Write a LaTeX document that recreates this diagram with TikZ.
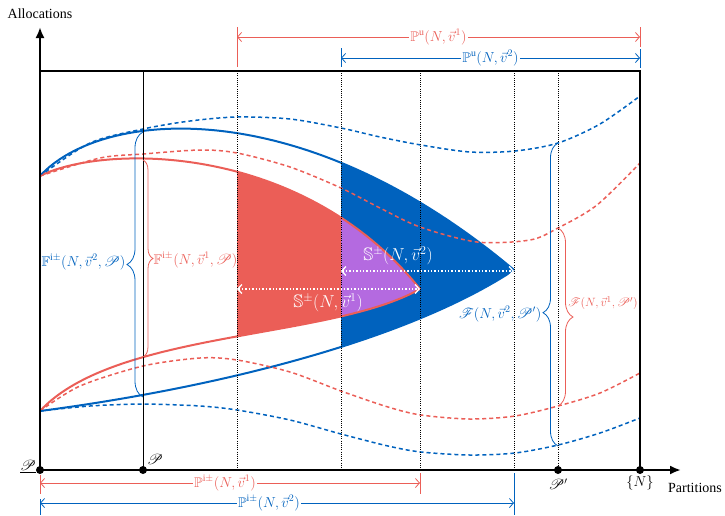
\documentclass[tikz,border=0pt]{standalone}
\usepackage{fontspec}
\setmainfont{Liberation Serif}
\usepackage{amssymb}
\usepackage{mathrsfs}
\usetikzlibrary{decorations.pathreplacing,arrows.meta}
\definecolor{redc}{RGB}{235,94,87}
\definecolor{bluec}{RGB}{0,98,190}
\definecolor{purc}{RGB}{180,106,224}
\begin{document}
\begin{tikzpicture}[x=1pt,y=-1pt,font=\fontsize{14}{16}\selectfont,
  solidc/.style={line width=2pt},
  dashc/.style={line width=1.5pt,dash pattern=on 4pt off 3pt},
  vdot/.style={line width=0.7pt,dash pattern=on 1pt off 1.2pt},
  brc/.style={decorate,decoration={brace,amplitude=#1},line width=0.8pt},
  dimarrow/.style={line width=0.8pt,{Straight Barb[length=4pt,width=9pt]}-{Straight Barb[length=4pt,width=9pt]}},
  barline/.style={line width=0.9pt},
  wdot/.style={white,line width=1.3pt,dash pattern=on 1.4pt off 2pt,{Straight Barb[length=4pt,width=9pt]}-{Straight Barb[length=4pt,width=9pt]}},
  dimlabel/.style={fill=white,inner sep=1.5pt},
  bigl/.style={text=white,font=\fontsize{18}{20}\selectfont,inner sep=1pt},
  axis/.style={line width=2.2pt},
  dotp/.style={circle,fill=black,inner sep=0pt,minimum size=8pt}
]
\useasboundingbox (0,0) rectangle (725,515);

% ---- fills
\begin{scope}
  \clip (237,60) rectangle (341,480);
  \fill[redc] (40,176) .. controls (100,145) and (300,140) .. (420,289)
     .. controls (330,340) and (115,330) .. (40,411) -- cycle;
\end{scope}
\begin{scope}
  \clip (341,60) rectangle (600,480);
  \fill[bluec] (40,176) .. controls (100,110) and (300,90) .. (514,270)
     .. controls (400,345) and (200,390) .. (40,411) -- cycle;
  \fill[purc] (40,176) .. controls (100,145) and (300,140) .. (420,289)
     .. controls (330,340) and (115,330) .. (40,411) -- cycle;
\end{scope}

% ---- solid curves
\draw[bluec,solidc] (40,176) .. controls (100,110) and (300,90) .. (514,270);
\draw[bluec,solidc] (40,411) .. controls (200,390) and (400,345) .. (514,270);
\draw[redc,solidc] (40,176) .. controls (100,145) and (300,140) .. (420,289);
\draw[redc,solidc] (40,411) .. controls (115,330) and (330,340) .. (420,289);

% ---- dashed curves
\draw[bluec,dashc] plot[smooth] coordinates {(40,176) (90,143) (143,129) (190,121) (237,117) (290,119) (341,128) (380,137) (421,145) (470,152) (515,151) (558,143) (600,124) (640,96)};
\draw[redc,dashc] plot[smooth] coordinates {(40,176) (100,158) (143,154) (200,150) (237,153) (290,167) (341,188) (380,208) (420,227) (477,242) (530,240) (558,228) (597,205) (640,163)};
\draw[redc,dashc] plot[smooth] coordinates {(40,411) (80,386) (143,366) (200,358) (237,360) (290,372) (341,391) (388,407) (421,415) (470,419) (515,416) (558,406) (600,393) (640,373)};
\draw[bluec,dashc] plot[smooth] coordinates {(40,411) (90,406) (143,404) (200,406) (237,410) (290,420) (341,434) (388,446) (421,452) (470,455) (515,453) (558,445) (600,433) (640,418)};

% ---- vertical guides
\draw[line width=0.8pt] (143,71) -- (143,470);
\foreach \xx in {237,341,420,514,558} \draw[vdot] (\xx,71) -- (\xx,470);

% ---- white dotted arrows
\coordinate (s2a) at (341,271); \coordinate (s2b) at (514,271);
\coordinate (s1a) at (237,289); \coordinate (s1b) at (420,289);
\draw[wdot] (s2a) -- (s2b);
\draw[wdot] (s1a) -- (s1b);
\node[bigl] (S2) at (398,256) {$\mathbb{S}^{\pm}(N,\vec{v}^2)$};
\node[bigl] (S1) at (328,303) {$\mathbb{S}^{\pm}(N,\vec{v}^1)$};

% ---- braces
\coordinate (lb1) at (143,397); \coordinate (lb2) at (143,132);
\coordinate (lr1) at (143,160); \coordinate (lr2) at (143,357);
\coordinate (rb1) at (558,446); \coordinate (rb2) at (558,143);
\coordinate (rr1) at (558,228); \coordinate (rr2) at (558,406);
\draw[bluec,brc=16pt] (lb1) -- (lb2);
\draw[redc,brc=10pt] (lr1) -- (lr2);
\draw[bluec,brc=15pt,decoration={aspect=0.44}] (rb1) -- (rb2);
\draw[redc,brc=15pt] (rr1) -- (rr2);
\node[anchor=east,text=bluec,inner sep=1.5pt] (Fb) at (127,262) {$\mathbb{F}^{\mathrm{i}\pm}(N,\vec{v}^2,\mathscr{P})$};
\node[anchor=west,text=redc,inner sep=1.5pt] (Fr) at (152,260) {$\mathbb{F}^{\mathrm{i}\pm}(N,\vec{v}^1,\mathscr{P})$};
\node[anchor=east,text=bluec,inner sep=1.5pt] (Gb) at (543,314) {$\mathscr{F}(N,\vec{v}^2,\mathscr{P}')$};
\node[text=redc,inner sep=1pt,font=\fontsize{13}{15}\selectfont] (Gr) at (603,303) {$\mathscr{F}(N,\vec{v}^1,\mathscr{P}')$};

% ---- box and axes
\draw[axis] (40,71) -- (640,71) -- (640,470);
\draw[axis,-{Latex[length=11pt,width=9pt]}] (40,471) -- (40,27);
\draw[axis,-{Latex[length=11pt,width=9pt]}] (38.9,470) -- (681,470);
\node[dotp] (d0) at (40,470) {};
\node[dotp] (d1) at (143,470) {};
\node[dotp] (d2) at (558,470) {};
\node[dotp] (d3) at (640,470) {};
\node (alloc) at (40,14) {Allocations};
\node (part) at (695,488) {Partitions};
\node[anchor=east,inner sep=1pt] (p0) at (37,467) {$\underline{\mathscr{P}}$};
\node[inner sep=1pt] (p1) at (155,459) {$\mathscr{P}$};
\node[inner sep=1pt] (p2) at (558,484) {$\mathscr{P}'$};
\node[inner sep=1pt] (p3) at (640,483) {$\{N\}$};

% ---- top dimension arrows
\coordinate (tr1) at (237,37); \coordinate (tr2) at (640,37);
\coordinate (tb1) at (341,58); \coordinate (tb2) at (640,58);
\draw[redc,barline] (237,27) -- (237,67);
\draw[redc,barline] (640,27) -- (640,47);
\draw[bluec,barline] (341,48) -- (341,67);
\draw[bluec,barline] (640,49) -- (640,68);
\draw[redc,dimarrow] (tr1) -- (tr2) node[midway,dimlabel,text=redc] (Pu1) {$\mathbb{P}^{\mathrm{u}}(N,\vec{v}^1)$};
\draw[bluec,dimarrow] (tb1) -- (tb2) node[midway,dimlabel,text=bluec] (Pu2) {$\mathbb{P}^{\mathrm{u}}(N,\vec{v}^2)$};

% ---- bottom dimension arrows
\coordinate (br1) at (40,483); \coordinate (br2) at (420,483);
\coordinate (bb1) at (40,503); \coordinate (bb2) at (514,503);
\draw[redc,barline] (40,475) -- (40,494);
\draw[redc,barline] (420,473) -- (420,494);
\draw[bluec,barline] (40,499) -- (40,515);
\draw[bluec,barline] (514,473) -- (514,515);
\draw[redc,dimarrow] (br1) -- (br2) node[pos=0.487,dimlabel,text=redc] (Pi1) {$\mathbb{P}^{\mathrm{i}\pm}(N,\vec{v}^1)$};
\draw[bluec,dimarrow] (bb1) -- (bb2) node[pos=0.483,dimlabel,text=bluec] (Pi2) {$\mathbb{P}^{\mathrm{i}\pm}(N,\vec{v}^2)$};
\end{tikzpicture}
\end{document}
